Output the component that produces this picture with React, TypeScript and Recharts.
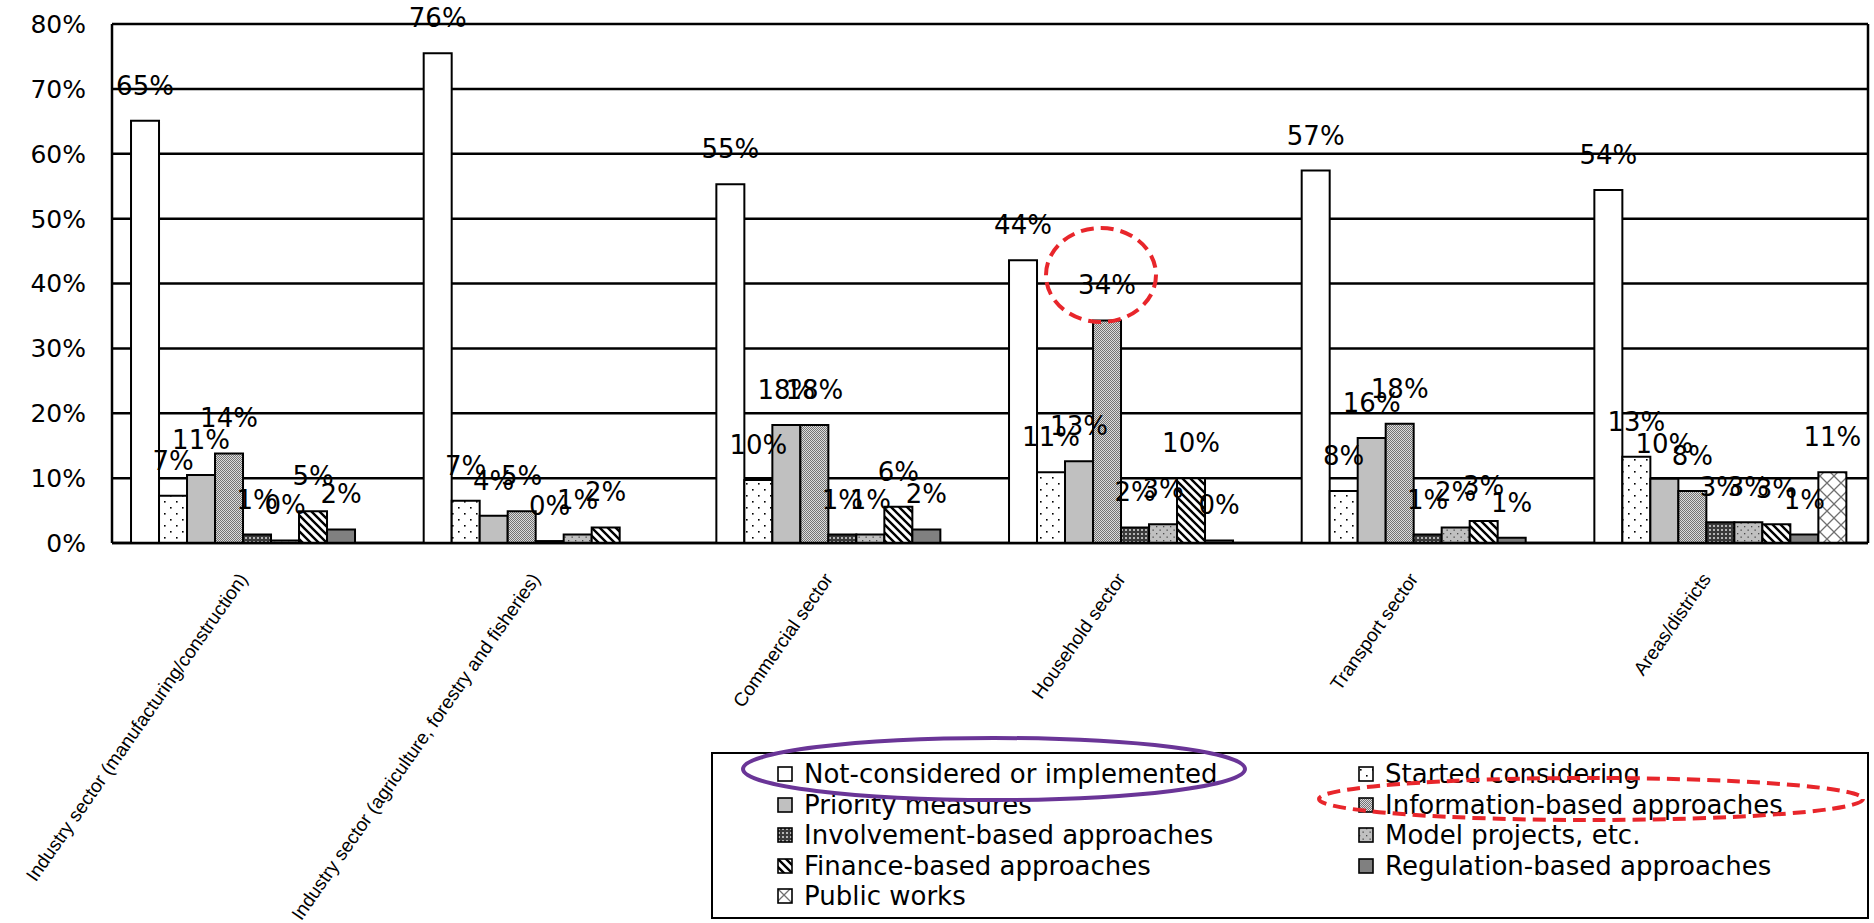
import React from 'react';
import { BarChart, Bar, XAxis, YAxis, CartesianGrid, LabelList } from 'recharts';

const sectors = [
  'Industry sector (manufacturing/construction)',
  'Industry sector (agriculture, forestry and fisheries)',
  'Commercial sector',
  'Household sector',
  'Transport sector',
  'Areas/districts',
];

// share of respondents (%) per sector
const notConsidered = [65.1, 75.5, 55.3, 43.6, 57.4, 54.4];
const startedConsidering = [7.3, 6.5, 9.7, 10.9, 8.0, 13.3];
const priorityMeasures = [10.5, 4.2, 18.2, 12.6, 16.2, 9.9];
const informationBased = [13.8, 4.9, 18.2, 34.3, 18.4, 8.0];
const involvementBased = [1.3, 0.3, 1.3, 2.4, 1.3, 3.2];
const modelProjects = [0.4, 1.3, 1.3, 2.9, 2.4, 3.2];
const financeBased = [4.9, 2.4, 5.6, 10.0, 3.4, 2.9];
const regulationBased = [2.1, 0, 2.1, 0.4, 0.8, 1.3];
const publicWorks = [null, null, null, null, null, 10.9];

const yTicks = [0, 10, 20, 30, 40, 50, 60, 70, 80];
const groupEdges = [1, 2, 3, 4, 5];

const series = [
  { key: 'notConsidered', name: 'Not-considered or implemented', fill: '#ffffff' },
  { key: 'startedConsidering', name: 'Started considering', fill: 'url(#pat-started)' },
  { key: 'priorityMeasures', name: 'Priority measures', fill: '#c0c0c0' },
  { key: 'informationBased', name: 'Information-based approaches', fill: 'url(#pat-info)' },
  { key: 'involvementBased', name: 'Involvement-based approaches', fill: 'url(#pat-involve)' },
  { key: 'modelProjects', name: 'Model projects, etc.', fill: 'url(#pat-model)' },
  { key: 'financeBased', name: 'Finance-based approaches', fill: 'url(#pat-finance)' },
  { key: 'regulationBased', name: 'Regulation-based approaches', fill: '#808080' },
  { key: 'publicWorks', name: 'Public works', fill: 'url(#pat-public)' },
];

const data = sectors.map((name, i) => ({
  name,
  notConsidered: notConsidered[i],
  startedConsidering: startedConsidering[i],
  priorityMeasures: priorityMeasures[i],
  informationBased: informationBased[i],
  involvementBased: involvementBased[i],
  modelProjects: modelProjects[i],
  financeBased: financeBased[i],
  regulationBased: regulationBased[i],
  publicWorks: publicWorks[i],
}));

const FONT = '"DejaVu Sans", sans-serif';

const ValueLabel = (props: any) => {
  const { value } = props;
  if (value === null || value === undefined) return null;
  const box = props.viewBox && typeof props.viewBox.x === 'number' ? props.viewBox : props;
  const x = Number(box.x) + Number(box.width) / 2;
  const y = Number(box.y) - 26;
  return (
    <text x={x} y={y} textAnchor="middle" fontFamily={FONT} fontSize={26} fill="#000">
      {Math.round(value)}%
    </text>
  );
};

const SectorTick = (props: any) => {
  const { x, y, payload } = props;
  return (
    <g transform={`translate(${x - 10},${y + 36})`}>
      <text
        transform="rotate(-55)"
        textAnchor="end"
        fontFamily='"Liberation Sans", Arial, sans-serif'
        fontSize={19}
        fill="#000"
      >
        {payload.value}
      </text>
    </g>
  );
};

const Patterns = () => (
  <defs>
    <pattern id="pat-started" width="12" height="12" patternUnits="userSpaceOnUse">
      <rect width="12" height="12" fill="#fff" />
      <rect x="2" y="3" width="1.6" height="1.6" fill="#000" />
      <rect x="8" y="9" width="1.6" height="1.6" fill="#000" />
    </pattern>
    <pattern id="pat-info" width="2" height="2" patternUnits="userSpaceOnUse">
      <rect width="2" height="2" fill="#dcdcdc" />
      <rect width="1" height="1" fill="#737373" />
      <rect x="1" y="1" width="1" height="1" fill="#737373" />
    </pattern>
    <pattern id="pat-involve" width="4" height="4" patternUnits="userSpaceOnUse">
      <rect width="4" height="4" fill="#3a3a3a" />
      <rect x="1" y="1" width="2" height="2" fill="#b4b4b4" />
    </pattern>
    <pattern id="pat-model" width="7" height="7" patternUnits="userSpaceOnUse">
      <rect width="7" height="7" fill="#c0c0c0" />
      <rect x="1" y="1" width="1.3" height="1.3" fill="#4a4a4a" />
      <rect x="4.5" y="4.5" width="1.3" height="1.3" fill="#4a4a4a" />
    </pattern>
    <pattern id="pat-finance" width="8" height="8" patternUnits="userSpaceOnUse">
      <rect width="8" height="8" fill="#fff" />
      <path d="M-2,-2 L10,10 M-2,6 L2,10 M6,-2 L10,2" stroke="#000" strokeWidth={2.4} />
    </pattern>
    <pattern id="pat-public" width="14" height="14" patternUnits="userSpaceOnUse">
      <rect width="14" height="14" fill="#fff" />
      <path d="M0,0 L14,14 M14,0 L0,14" stroke="#707070" strokeWidth={1.3} />
    </pattern>
  </defs>
);

const legendRows = [
  [0, 1],
  [2, 3],
  [4, 5],
  [6, 7],
  [8],
];

const ChartLegend = () => (
  <div
    style={{
      position: 'absolute',
      left: 711,
      top: 752,
      width: 1158,
      height: 167,
      border: '2px solid #000',
      boxSizing: 'border-box',
      background: '#fff',
    }}
  >
    {legendRows.map((row, r) =>
      row.map((idx, c) => {
        const s = series[idx];
        return (
          <div
            key={s.key}
            style={{
              position: 'absolute',
              left: c === 0 ? 64 : 645,
              top: 5 + r * 30.5,
              height: 30,
              display: 'flex',
              alignItems: 'center',
              whiteSpace: 'nowrap',
            }}
          >
            <svg width={16} height={16} style={{ marginRight: 11 }}>
              <rect x={1} y={1} width={14} height={14} fill={s.fill} stroke="#000" strokeWidth={1.6} />
            </svg>
            <span style={{ fontFamily: FONT, fontSize: 26, color: '#000', lineHeight: '30px' }}>{s.name}</span>
          </div>
        );
      }),
    )}
  </div>
);

// highlight marks drawn over the chart
const Highlights = () => (
  <svg
    width={1874}
    height={923}
    style={{ position: 'absolute', left: 0, top: 0, pointerEvents: 'none' }}
  >
    <ellipse cx={1101} cy={275} rx={55} ry={47} fill="none" stroke="#e8262b" strokeWidth={4} strokeDasharray="13 7" />
    <ellipse cx={994} cy={769} rx={251} ry={31} fill="none" stroke="#6a3597" strokeWidth={4} />
    <ellipse cx={1591} cy={799} rx={272} ry={21} fill="none" stroke="#e8262b" strokeWidth={4} strokeDasharray="13 7" />
  </svg>
);

export default function App() {
  return (
    <div style={{ position: 'absolute', left: 0, top: 0, width: 1874, height: 923, background: '#fff' }}>
      <BarChart
        width={1874}
        height={923}
        data={data}
        margin={{ top: 24, right: 5, bottom: 0, left: 0 }}
        barCategoryGap="6.5%"
        barGap={0}
      >
        <Patterns />
        <CartesianGrid vertical={false} stroke="#000" strokeWidth={2.5} />
        <XAxis
          dataKey="name"
          height={380}
          interval={0}
          tickLine={false}
          tickSize={0}
          tickMargin={0}
          axisLine={{ stroke: '#000', strokeWidth: 2.5 }}
          tick={<SectorTick />}
        />
        <XAxis
          xAxisId="edges"
          type="number"
          domain={[0, 6]}
          ticks={groupEdges}
          mirror
          height={10}
          tick={false}
          tickSize={6}
          axisLine={false}
          tickLine={{ stroke: '#000', strokeWidth: 2 }}
        />
        <YAxis
          domain={[0, 80]}
          ticks={yTicks}
          width={112}
          tickLine={false}
          tickSize={6}
          tickMargin={20}
          axisLine={{ stroke: '#000', strokeWidth: 2.5 }}
          tickFormatter={(v: number) => `${v}%`}
          tick={{ fill: '#000', fontSize: 25, fontFamily: FONT }}
        />
        <YAxis
          yAxisId="frame"
          orientation="right"
          domain={[0, 80]}
          width={1}
          tick={false}
          tickLine={false}
          axisLine={{ stroke: '#000', strokeWidth: 2.5 }}
        />
        {series.map((s) => (
          <Bar
            key={s.key}
            dataKey={s.key}
            name={s.name}
            fill={s.fill}
            stroke="#000"
            strokeWidth={2}
            isAnimationActive={false}
          >
            <LabelList dataKey={s.key} content={<ValueLabel />} />
          </Bar>
        ))}
      </BarChart>
      <ChartLegend />
      <Highlights />
    </div>
  );
}
